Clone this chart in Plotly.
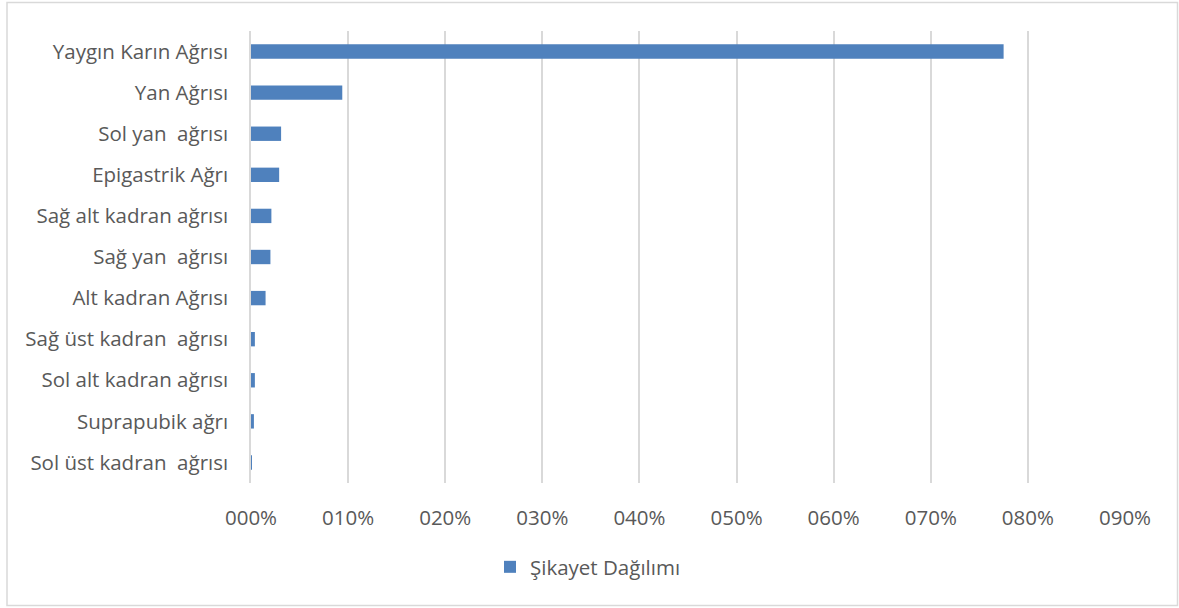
import plotly.graph_objects as go

# Complaint categories (top to bottom) and their share of all complaints
categories = [
    "Yaygın Karın Ağrısı",
    "Yan Ağrısı",
    "Sol yan  ağrısı",
    "Epigastrik Ağrı",
    "Sağ alt kadran ağrısı",
    "Sağ yan  ağrısı",
    "Alt kadran Ağrısı",
    "Sağ üst kadran  ağrısı",
    "Sol alt kadran ağrısı",
    "Suprapubik ağrı",
    "Sol üst kadran  ağrısı",
]
shares = [0.775, 0.094, 0.031, 0.029, 0.021, 0.020, 0.015, 0.004, 0.004, 0.003, 0.001]

tick_values = [0.0, 0.1, 0.2, 0.3, 0.4, 0.5, 0.6, 0.7, 0.8, 0.9]
tick_labels = ["000%", "010%", "020%", "030%", "040%", "050%", "060%", "070%", "080%", "090%"]

series_name = "Şikayet Dağılımı"

W, H = 1179, 608
L, R, T, B = 251, 54, 31, 125
pw, ph = W - L - R, H - T - B

font_family = "'Open Sans', sans-serif"
text_color = "#595959"
grid_color = "#d9d9d9"

fig = go.Figure(
    go.Bar(
        x=shares,
        y=categories,
        orientation="h",
        name=series_name,
        marker=dict(color="#4F81BD", line=dict(width=0)),
        width=0.35,
        showlegend=True,
    )
)

# outer chart border
def px_x(v):
    return (v - L) / pw

def px_y(v):
    return (H - B - v) / ph

fig.add_shape(
    type="rect", xref="paper", yref="paper",
    x0=px_x(7), x1=px_x(1177.5), y0=px_y(605.5), y1=px_y(2.5),
    line=dict(color=grid_color, width=1.5), fillcolor="rgba(0,0,0,0)", layer="below",
)

fig.update_layout(
    width=W, height=H,
    margin=dict(l=L, r=R, t=T, b=B, pad=0),
    paper_bgcolor="white", plot_bgcolor="white",
    font=dict(family=font_family, size=20.5, color=text_color),
    bargap=0.65,
    legend=dict(
        orientation="h", x=px_x(490), xanchor="left", y=px_y(567), yanchor="middle",
        font=dict(size=20.5, color=text_color), itemwidth=30, bgcolor="rgba(0,0,0,0)",
        traceorder="normal",
    ),
    xaxis=dict(
        range=[0, 0.9], tickmode="array", tickvals=tick_values, ticktext=tick_labels,
        showgrid=True, gridcolor=grid_color, gridwidth=1.5, zeroline=False,
        showline=False, ticks="", ticklabelstandoff=20, fixedrange=True,
    ),
    yaxis=dict(
        autorange="reversed", showgrid=False, zeroline=False,
        showline=True, linecolor=grid_color, linewidth=1.5,
        ticks="", ticklabelstandoff=17, fixedrange=True,
    ),
)

fig.write_html("out.html")
